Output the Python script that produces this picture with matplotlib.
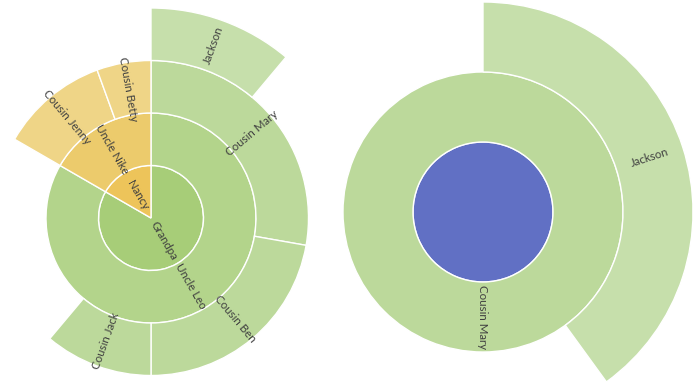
import matplotlib
matplotlib.use("Agg")
import matplotlib.pyplot as plt
import numpy as np

# --- data (sunburst, values sorted desc like the original) ---
ring1_names = ["Grandpa", "Nancy"]
ring1_values = [15, 3]

ring2_names = ["Uncle Leo", "Uncle Nike"]
ring2_values = [15, 3]
ring2_parents = ["Grandpa", "Nancy"]

ring3_names = ["Cousin Mary", "Cousin Ben", "Cousin Jack", "Cousin Jenny", "Cousin Betty"]
ring3_values = [5, 4, 2, 2, 1]
ring3_parents = ["Uncle Leo", "Uncle Leo", "Uncle Leo", "Uncle Nike", "Uncle Nike"]

ring4_names = ["Jackson"]
ring4_values = [2]
ring4_parents = ["Cousin Mary"]

# right chart: drilled down into Cousin Mary
drill_name = "Cousin Mary"
drill_value = 5

# colours per level (green = Grandpa branch, yellow = Nancy branch)
green_levels = ["#a7cd78", "#b3d48b", "#bcd99b", "#c6dfab"]
yellow_levels = ["#edc45a", "#eccb6c", "#efd587"]
center_blue = "#6170c4"
branch = {"Grandpa": "green", "Nancy": "yellow"}

plt.rcParams["font.family"] = ["Lato", "DejaVu Sans"]
TEXT_COLOR = "#404040"
FS = 8.3


def build_ring(prev_names, prev_values, names, values, parents):
    # children of each parent in order, then a blank gap for the rest
    out_names, out_values = [], []
    for pn, pv in zip(prev_names, prev_values):
        used = 0
        if pn is not None:
            for n, v, p in zip(names, values, parents):
                if p == pn:
                    out_names.append(n)
                    out_values.append(v)
                    used += v
        if pv - used > 0:
            out_names.append(None)
            out_values.append(pv - used)
    return out_names, out_values


def label_rotation(a):
    a = ((a + 180) % 360) - 180
    if a > 90:
        return a - 180
    if a < -90.5:
        return a + 180
    return a


def add_labels(ax, wedges, names, r_out, width):
    r_mid = r_out - width / 2
    for w, n in zip(wedges, names):
        if n is None:
            continue
        mid = (w.theta1 + w.theta2) / 2
        x = r_mid * np.cos(np.radians(mid))
        y = r_mid * np.sin(np.radians(mid))
        ax.text(x, y, n, rotation=label_rotation(mid), rotation_mode="anchor",
                ha="center", va="center", fontsize=FS, color=TEXT_COLOR)


W, H = 700, 383
fig = plt.figure(figsize=(7.0, 3.83), dpi=100)


def make_axes(cx, cy, R):
    # axes square centred on the sunburst centre (pixel coords)
    return fig.add_axes([(cx - R) / W, (H - cy - R) / H, 2 * R / W, 2 * R / H])


top_of = {"Grandpa": "Grandpa", "Nancy": "Nancy"}
for names, parents in [(ring2_names, ring2_parents), (ring3_names, ring3_parents),
                       (ring4_names, ring4_parents)]:
    for n, p in zip(names, parents):
        top_of[n] = top_of[p]


def colors_for(names, level):
    cols = []
    for n in names:
        if n is None:
            cols.append("white")
        elif branch[top_of[n]] == "green":
            cols.append(green_levels[level])
        else:
            cols.append(yellow_levels[level])
    return cols


def draw_ring(ax, names, values, colors, r_out, width):
    wedges, _ = ax.pie(values, radius=r_out, startangle=90, counterclock=False,
                       colors=colors,
                       wedgeprops=dict(width=width, edgecolor="white", linewidth=1))
    for w, n in zip(wedges, names):
        if n is None:
            w.set_visible(False)
    add_labels(ax, wedges, names, r_out, width)


# --- left sunburst ---
ax1 = make_axes(151, 218, 210)
n1, v1 = ring1_names, ring1_values
n2, v2 = build_ring(n1, v1, ring2_names, ring2_values, ring2_parents)
n3, v3 = build_ring(n2, v2, ring3_names, ring3_values, ring3_parents)
n4, v4 = build_ring(n3, v3, ring4_names, ring4_values, ring4_parents)
step = 0.25
for lvl, (nn, vv) in enumerate([(n1, v1), (n2, v2), (n3, v3), (n4, v4)]):
    draw_ring(ax1, nn, vv, colors_for(nn, lvl), step * (lvl + 1), step)
ax1.set_xlim(-1, 1)
ax1.set_ylim(-1, 1)
ax1.set_aspect("equal")
ax1.axis("off")

# --- right sunburst (drill-down) ---
ax2 = make_axes(483, 212, 210)
step2 = 1 / 3
ax2.pie([drill_value], radius=step2, startangle=90, counterclock=False,
        colors=[center_blue], wedgeprops=dict(edgecolor="white", linewidth=1))
draw_ring(ax2, [drill_name], [drill_value], [green_levels[2]], 2 * step2, step2)
dn, dv = build_ring([drill_name], [drill_value], ring4_names, ring4_values, ring4_parents)
draw_ring(ax2, dn, dv, colors_for(dn, 3), 1.0, step2)
ax2.set_xlim(-1, 1)
ax2.set_ylim(-1, 1)
ax2.set_aspect("equal")
ax2.axis("off")

fig.savefig("out.png", dpi=100, facecolor="white")
